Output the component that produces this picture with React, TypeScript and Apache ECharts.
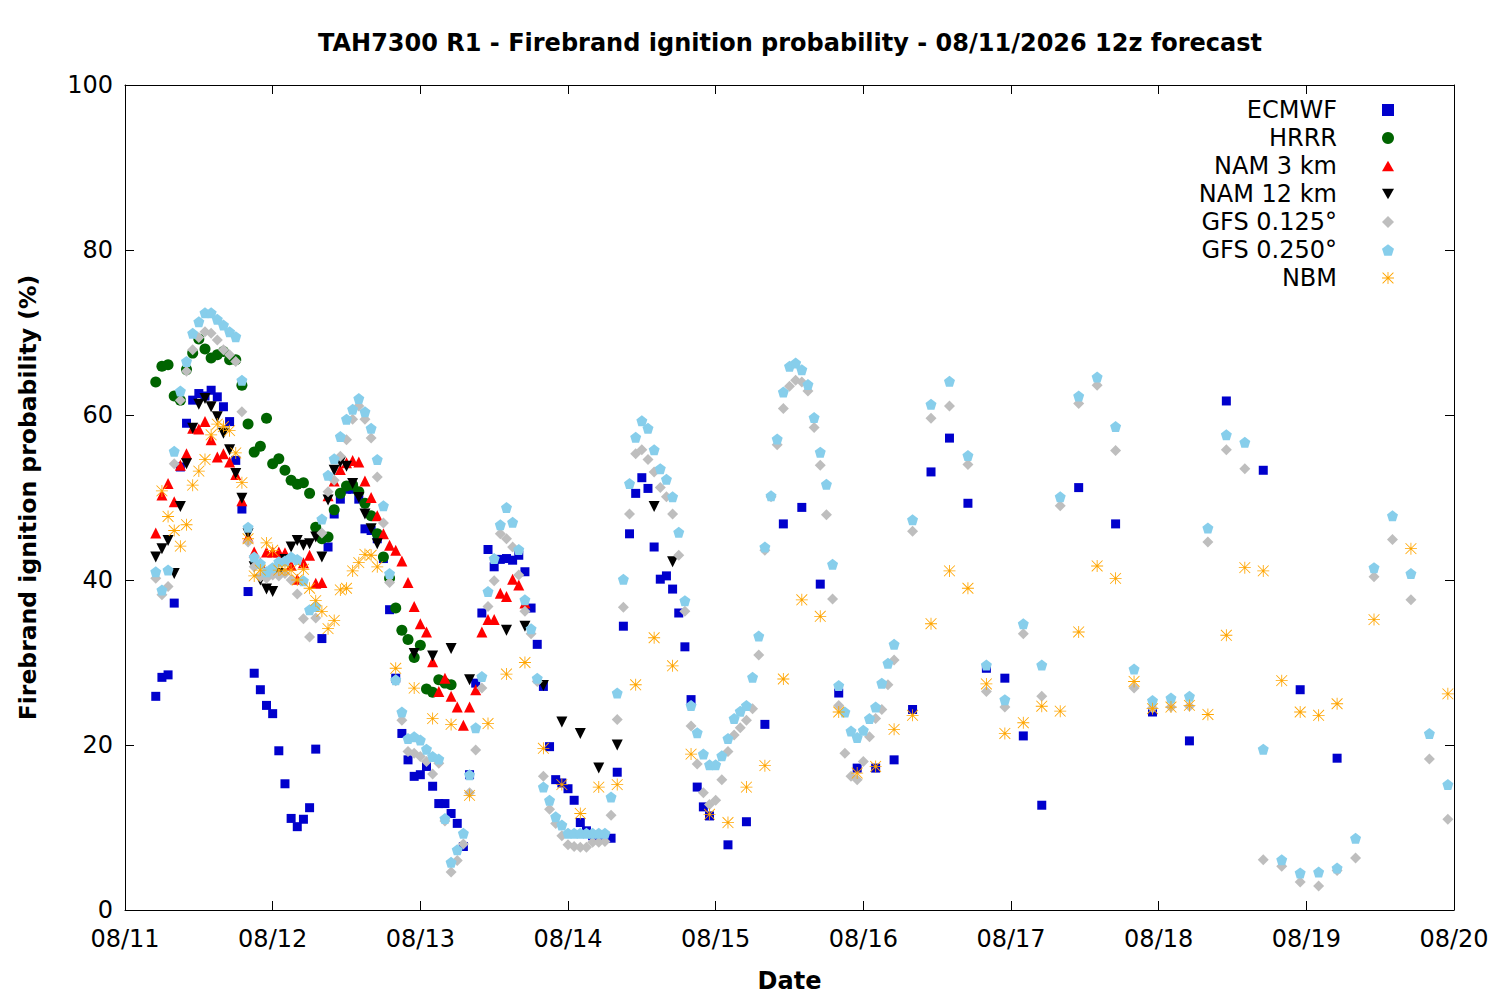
import React, { useEffect, useRef } from "react";
import * as echarts from "echarts";

const FONT = "DejaVu Sans";

// x axis: hours after 08/11 00:00 local; one tick per day
const dateLabels = ["08/11", "08/12", "08/13", "08/14", "08/15", "08/16", "08/17", "08/18", "08/19", "08/20"];
const seriesNames = ["ECMWF", "HRRR", "NAM 3 km", "NAM 12 km", "GFS 0.125°", "GFS 0.250°", "NBM"];

// ECMWF: hourly from h5 to h95, 3-hourly h98..h149, 6-hourly h155..h197
const ecmwfHourly = [
  25.9, 28.2, 28.5, 37.2, 53.7, 59.0, 61.8, 62.6, 62.3, 63.0,
  62.2, 61.0, 59.2, 54.5, 48.6, 38.6, 28.7, 26.7, 24.8, 23.8,
  19.3, 15.3, 11.1, 10.1, 11.0, 12.4, 19.5, 32.9, 44.0, 48.0,
  49.8, 51.0, 51.0, 49.8, 46.2, 46.0, 45.0, 42.6, 36.4, 28.1,
  21.4, 18.2, 16.2, 16.4, 17.4, 15.0, 12.9, 12.9, 11.7, 10.5,
  7.7, 16.4, 27.5, 36.0, 43.7, 41.6, 42.5, 42.6, 42.4, 43.0,
  41.0, 36.6, 32.2, 27.1, 19.8, 15.8, 15.4, 14.7, 13.3, 10.6,
  9.6, 9.0, 8.8, 8.8, 8.7, 16.7, 34.4, 45.6, 50.5, 52.4,
  51.1, 44.0, 40.1, 40.5, 38.9, 36.0, 31.9, 25.5, 14.9, 12.5, 11.4,
];
const ecmwf3h = [7.9, 10.7, 22.5, 46.8, 48.8, 39.5, 26.3, 17.2, 17.2, 18.2, 24.3, 53.1, 57.2, 49.3, 29.3, 28.1, 21.1, 12.7];
const ecmwf6h = [51.2, 46.8, 24.0, 20.5, 61.7, 53.3, 26.7, 18.4];

// HRRR: hourly h5..h53
const hrrr = [
  64.0, 65.9, 66.1, 62.3, 61.8, 65.5, 67.5, 69.2, 68.0, 66.9,
  67.3, 67.7, 66.7, 66.7, 63.6, 58.9, 55.5, 56.2, 59.6, 54.1,
  54.7, 53.3, 52.1, 51.6, 51.8, 50.5, 46.4, 45.0, 45.2, 48.5,
  50.5, 51.4, 51.5, 50.7, 49.3, 47.8, 45.6, 42.8, 40.2, 36.6,
  33.9, 32.8, 30.6, 32.1, 26.8, 26.4, 27.9, 27.5, 27.3,
];

// NAM 3 km: hourly h5..h65
const nam3 = [
  45.7, 50.3, 51.7, 49.5, 53.9, 55.3, 58.4, 58.3, 59.2, 57.0,
  54.9, 55.3, 54.3, 52.8, 49.6, 45.2, 43.4, 42.1, 43.4, 43.4,
  43.4, 43.3, 41.8, 40.1, 42.1, 43.0, 39.6, 39.7, 50.2, 52.0,
  53.4, 54.2, 54.5, 54.3, 52.0, 50.0, 47.8, 45.6, 44.2, 43.6,
  42.3, 39.7, 36.8, 34.7, 33.7, 30.1, 26.5, 28.1, 25.9, 24.6,
  22.4, 24.6, 26.7, 33.7, 35.2, 35.2, 38.4, 38.0, 40.1, 39.4, 37.2,
];

// NAM 12 km: hourly h5..h41, then 3-hourly h44..h89
const nam12Hourly = [
  42.8, 43.8, 44.8, 40.8, 48.9, 54.1, 58.4, 61.3, 62.0, 61.0,
  59.8, 57.8, 55.8, 52.9, 49.9, 45.6, 41.6, 40.0, 38.9, 38.6,
  40.8, 42.5, 44.0, 44.8, 44.2, 44.4, 45.2, 42.8, 49.7, 53.3,
  54.3, 53.8, 51.7, 50.0, 48.0, 46.2, 44.4,
];
const nam12_3h = [null, 31.1, 30.8, 31.7, 27.9, null, 33.9, 34.4, 27.2, 22.8, 21.4, 17.2, 20.0, null, 48.9, 42.2];

// GFS 0.125: hourly h5..h125, then 3-hourly h128..h215
const gfs125Hourly = [
  40.2, 38.2, 39.2, 54.1, 61.8, 65.3, 67.9, 69.4, 70.1, 69.9,
  69.1, 67.9, 67.3, 66.5, 60.4, 44.6, 41.6, 40.4, 40.2, 40.6,
  40.5, 40.8, 40.0, 38.3, 35.3, 33.1, 35.4, 45.7, 50.7, 52.1,
  55.0, 57.0, 59.5, 61.1, 59.5, 57.2, 52.5, 46.9, 39.7, 27.8,
  23.0, 19.2, 19.0, 18.6, 18.0, 16.5, 17.8, 10.8, 4.6, 6.0,
  8.0, 14.2, 19.4, 26.9, 36.8, 39.9, 45.6, 45.0, 44.0, 40.6,
  36.2, 33.5, 27.7, 16.2, 12.2, 10.5, 9.0, 7.9, 7.7, 7.6,
  7.6, 8.2, 8.2, 8.3, 11.5, 23.1, 36.7, 48.0, 55.3, 55.8,
  54.6, 53.1, 51.2, 50.1, 48.0, 43.0, 36.2, 22.3, 17.7, 14.2,
  12.8, 13.3, 15.8, 19.2, 21.2, 22.1, 23.0, 24.4, 30.9, 43.6,
  50.1, 56.4, 60.8, 63.5, 64.2, 64.0, 62.9, 58.5, 53.9, 47.9,
  37.7, 24.8, 19.0, 16.2, 15.8, 18.0, 21.0, 23.2, 24.3, 27.3, 30.3,
];
const gfs125_3h = [
  45.9, 59.6, 61.1, 54.0, 26.5, 24.6, 33.5, 25.9, 49.0, 61.4,
  63.6, 55.7, 26.9, 24.5, 24.6, 24.7, 44.6, 55.8, 53.5, 6.1,
  5.3, 3.4, 2.9, 4.8, 6.3, 40.4, 44.9, 37.6, 18.3, 11.0,
];

// GFS 0.250: hourly h5..h125, then 3-hourly h128..h215
const gfs25Hourly = [
  41.0, 38.8, 41.2, 55.6, 62.9, 66.5, 69.9, 71.3, 72.4, 72.4,
  71.6, 70.9, 70.1, 69.5, 64.2, 46.4, 42.8, 42.0, 41.0, 41.5,
  42.2, 42.3, 42.8, 42.5, 39.9, 36.4, 36.8, 47.4, 52.7, 54.7,
  57.4, 59.5, 60.7, 62.0, 60.4, 58.4, 54.6, 49.0, 40.8, 27.9,
  24.0, 20.8, 21.0, 20.6, 19.5, 18.6, 18.3, 11.1, 5.8, 7.3,
  9.3, 16.4, 22.1, 28.3, 38.6, 42.6, 46.7, 48.8, 47.0, 43.7,
  37.6, 34.1, 28.1, 14.9, 13.3, 11.3, 10.3, 9.3, 9.3, 9.3,
  9.3, 9.3, 9.3, 9.3, 13.7, 26.3, 40.1, 51.7, 57.3, 59.3,
  58.4, 55.8, 53.5, 52.2, 50.1, 45.8, 37.5, 24.8, 21.5, 18.9,
  17.6, 17.6, 18.7, 20.8, 23.2, 24.1, 24.8, 28.2, 33.2, 44.0,
  50.2, 57.1, 62.8, 65.9, 66.3, 65.5, 63.7, 59.7, 55.5, 51.6,
  41.9, 27.2, 24.0, 21.7, 20.9, 21.8, 23.2, 24.6, 27.5, 29.9, 32.2,
];
const gfs25_3h = [
  47.3, 61.3, 64.1, 55.1, 29.7, 25.5, 34.7, 29.7, 50.1, 62.3,
  64.6, 58.6, 29.2, 25.4, 25.7, 25.9, 46.3, 57.6, 56.7, 19.5,
  6.1, 4.5, 4.6, 5.1, 8.7, 41.5, 47.8, 40.8, 21.4, 15.2,
];

// NBM: hourly h6..h41, 3-hourly h44..h197, 6-hourly h203..h215
const nbmHourly = [
  50.8, 47.7, 46.0, 44.1, 46.7, 51.5, 53.2, 54.6, 57.6, 58.9,
  58.6, 58.1, 55.4, 51.8, 45.0, 40.5, 41.2, 44.5, 43.6, 41.2,
  41.2, 41.2, 40.0, 41.3, 39.0, 37.5, 36.2, 34.1, 35.1, 38.8,
  39.0, 41.1, 42.1, 43.1, 43.0, 41.6,
];
const nbm3h = [
  29.3, 26.9, 23.2, 22.5, 13.9, 22.6, 28.6, 30.0, 19.6, 15.2,
  11.7, 14.9, 15.2, 27.3, 33.0, 29.6, 18.9, 11.6, 10.6, 14.9,
  17.5, 28.0, 37.6, 35.6, 24.0, 16.6, 17.4, 21.9, 23.6, 34.7,
  41.1, 39.0, 27.4, 21.4, 22.7, 24.7, 24.1, 33.7, 41.7, 40.2,
  27.7, 24.4, 24.6, 24.8, 23.7, 33.3, 41.5, 41.1, 27.8, 24.0,
  23.6, 25.0,
];
const nbm6h = [35.2, 43.8, 26.2];

function run(start: number, step: number, vals: (number | null)[]) {
  const out: [number, number][] = [];
  vals.forEach((v, i) => {
    if (v !== null) out.push([start + i * step, v]);
  });
  return out;
}

const STAR =
  "path://M0,9.3L20,9.3L20,10.7L0,10.7Z M9.3,0L10.7,0L10.7,20L9.3,20Z M0.5,1.5L1.5,0.5L19.5,18.5L18.5,19.5Z M18.5,0.5L19.5,1.5L1.5,19.5L0.5,18.5Z";
const PENTAGON = "path://M10,0L20,7.3L16.2,19L3.8,19L0,7.3Z";
const TRI_DOWN = "path://M0,0L20,0L10,17.3Z";
const TRI_UP = "path://M10,0L20,17.3L0,17.3Z";

export default function App() {
  const ref = useRef<HTMLDivElement>(null);
  useEffect(() => {
    const chart = echarts.init(ref.current!, null, { renderer: "svg" });
    const mk = (name: string, data: [number, number][], symbol: string, size: number, color: string) => ({
      type: "scatter",
      name,
      data,
      symbol,
      symbolSize: size,
      itemStyle: { color, opacity: 1 },
      emphasis: { disabled: true },
      xAxisIndex: 0,
      yAxisIndex: 0,
    });
    const axisCommon = {
      type: "value",
      axisLine: { show: true, onZero: false, lineStyle: { color: "#000", width: 1 } },
      axisTick: { show: true, inside: true, length: 9, lineStyle: { color: "#000", width: 1 } },
      splitLine: { show: false },
    };
    chart.setOption({
      animation: false,
      backgroundColor: "#fff",
      textStyle: { fontFamily: FONT },
      grid: { left: 125, right: 46, top: 85, bottom: 90, containLabel: false },
      xAxis: [
        {
          ...axisCommon,
          position: "bottom",
          min: 0,
          max: 216,
          interval: 24,
          axisLabel: {
            formatter: (v: number) => dateLabels[Math.round(v / 24)],
            fontSize: 24,
            color: "#000",
            fontFamily: FONT,
            margin: 17,
            showMinLabel: true,
            showMaxLabel: true,
          },
          name: "Date",
          nameLocation: "middle",
          nameGap: 59,
          nameTextStyle: { fontSize: 24, fontWeight: "bold", color: "#000", fontFamily: FONT },
        },
        {
          ...axisCommon,
          position: "top",
          min: 0,
          max: 216,
          interval: 24,
          axisLabel: { show: false },
        },
      ],
      yAxis: [
        {
          ...axisCommon,
          position: "left",
          min: 0,
          max: 100,
          interval: 20,
          axisLabel: { fontSize: 24, color: "#000", fontFamily: FONT, margin: 12 },
          name: "Firebrand ignition probability (%)",
          nameLocation: "middle",
          nameGap: 85,
          nameTextStyle: { fontSize: 23.5, fontWeight: "bold", color: "#000", fontFamily: FONT },
        },
        {
          ...axisCommon,
          position: "right",
          min: 0,
          max: 100,
          interval: 20,
          axisLabel: { show: false },
        },
      ],
      legend: {
        orient: "vertical",
        right: 101,
        top: 93,
        align: "right",
        itemWidth: 12,
        itemHeight: 12,
        itemGap: 4,
        selectedMode: false,
        data: seriesNames,
        textStyle: { fontSize: 24, color: "#000", fontFamily: FONT, padding: [0, 40, 0, 0] },
      },
      graphic: [
        {
          type: "text",
          x: 790,
          y: 43,
          style: {
            text: "TAH7300 R1 - Firebrand ignition probability - 08/11/2026 12z forecast",
            font: `bold 24px "${FONT}"`,
            fill: "#000",
            align: "center",
            verticalAlign: "middle",
          },
        },
      ],
      series: [
        mk(seriesNames[0], [...run(5, 1, ecmwfHourly), ...run(98, 3, ecmwf3h), ...run(155, 6, ecmwf6h)], "rect", 9, "#0000cc"),
        mk(seriesNames[1], run(5, 1, hrrr), "circle", 11, "#006400"),
        mk(seriesNames[2], run(5, 1, nam3), TRI_UP, 11, "#ff0000"),
        mk(seriesNames[3], [...run(5, 1, nam12Hourly), ...run(44, 3, nam12_3h)], TRI_DOWN, 11, "#000000"),
        mk(seriesNames[4], [...run(5, 1, gfs125Hourly), ...run(128, 3, gfs125_3h)], "diamond", 11, "#bebebe"),
        mk(seriesNames[5], [...run(5, 1, gfs25Hourly), ...run(128, 3, gfs25_3h)], PENTAGON, 11, "#87ceeb"),
        mk(seriesNames[6], [...run(6, 1, nbmHourly), ...run(44, 3, nbm3h), ...run(203, 6, nbm6h)], STAR, 12, "#ffa500"),
      ],
    });
    return () => chart.dispose();
  }, []);
  return (
    <div
      ref={ref}
      style={{ position: "fixed", left: 0, top: 0, width: 1500, height: 1000, background: "#fff" }}
    />
  );
}
